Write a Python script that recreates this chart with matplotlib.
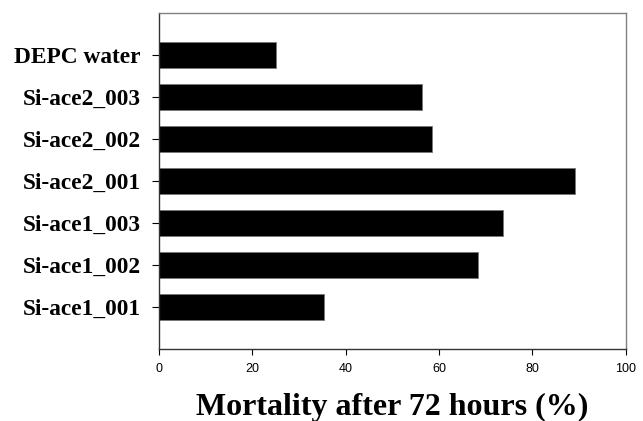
import matplotlib.pyplot as plt

# --- Data ---
samples = ["Si-ace1_001", "Si-ace1_002", "Si-ace1_003",
           "Si-ace2_001", "Si-ace2_002", "Si-ace2_003", "DEPC water"]
mortality = [35.3, 68.4, 73.8, 89.1, 58.4, 56.4, 25.1]
x_ticks = [0, 20, 40, 60, 80, 100]

# --- Plot ---
fig = plt.figure(figsize=(6.43, 4.21), dpi=100)
ax = fig.add_axes([0.2473, 0.1703, 0.7258, 0.7995])

ypos = list(range(len(samples)))
ax.barh(ypos, mortality, height=0.62, color="black", edgecolor="#777777", linewidth=0.6)

ax.set_xlim(0, 100)
ax.set_ylim(-1, len(samples))
ax.set_xticks(x_ticks)
ax.set_xticklabels([str(t) for t in x_ticks], fontfamily="Liberation Sans", fontsize=9)
ax.set_yticks(ypos)
ax.set_yticklabels(samples, fontfamily="Liberation Serif", fontweight="bold", fontsize=16.8)
ax.tick_params(axis="y", length=5, width=0.8, pad=8)
ax.tick_params(axis="x", length=4, width=0.8, pad=6)

for sp in ax.spines.values():
    sp.set_color("#808080")
    sp.set_linewidth(1.0)
ax.spines["left"].set_color("#333333")
ax.spines["bottom"].set_color("#333333")

ax.set_xlabel("Mortality after 72 hours (%)", fontfamily="Liberation Serif",
              fontweight="bold", fontsize=23, labelpad=13)

fig.savefig("out.png", dpi=100)
